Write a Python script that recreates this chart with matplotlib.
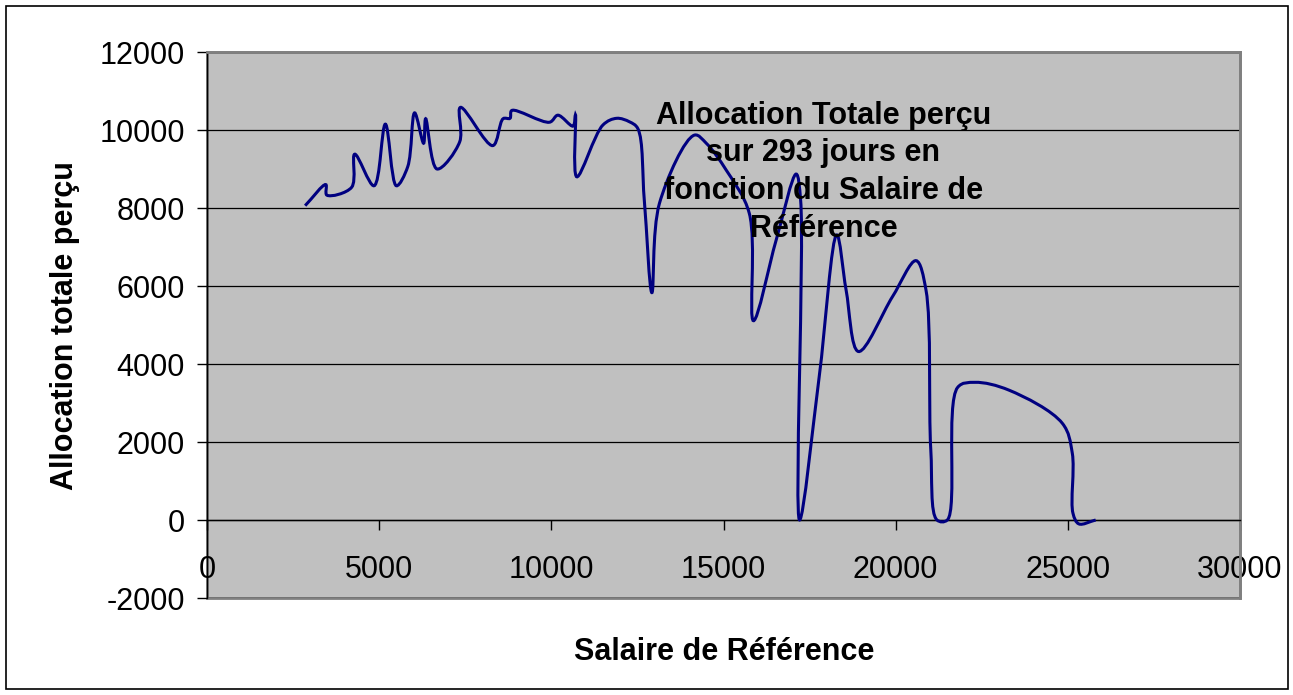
import numpy as np
import matplotlib
matplotlib.use("Agg")
import matplotlib.pyplot as plt
from matplotlib.path import Path
import matplotlib.patches as mpatches

plt.rcParams['font.family'] = ['Liberation Sans', 'DejaVu Sans']
plt.rcParams['axes.unicode_minus'] = False

# values
salaire = [2850, 3450, 3480, 4200, 4290, 4850, 5180, 5500, 5830, 6030,
           6290, 6350, 6680, 7340, 7360, 8300, 8600, 8800, 8850, 9950,
           10190, 10630, 10700, 10740, 11500, 11900, 12270, 12510, 12700, 12920,
           13140, 14160, 14500, 15080, 15750, 15870, 16530, 17110, 17240, 17210,
           17780, 18290, 18560, 18920, 19910, 20590, 20880, 21020, 21200, 21500,
           21800, 22300, 23290, 24840, 25130, 25150, 25320, 25810]
allocation = [8060, 8600, 8330, 8530, 9380, 8570, 10150, 8570, 9060, 10440,
              9660, 10290, 9000, 9700, 10580, 9600, 10290, 10300, 10500, 10200,
              10380, 10100, 10390, 8800, 10130, 10300, 10210, 10040, 8200, 5830,
              8120, 9870, 9660, 8970, 7860, 5110, 7180, 8870, 8200, 0,
              3680, 7310, 5900, 4320, 5730, 6650, 5900, 1800, 0, 0,
              3400, 3530, 3330, 2480, 1710, 170, -100, 0]

titre = "Allocation Totale perçu\nsur 293 jours en\nfonction du Salaire de\nRéférence"


def smooth_path(xs, ys, sx, sy, alpha=0.5):
    # centripetal Catmull-Rom written as cubic Bezier segments
    pts = np.column_stack([xs, ys]).astype(float)
    scale = np.array([sx, sy])
    ext = np.vstack([2 * pts[0] - pts[1], pts, 2 * pts[-1] - pts[-2]])
    verts = [pts[0]]
    codes = [Path.MOVETO]
    for i in range(1, len(ext) - 2):
        p0, p1, p2, p3 = ext[i - 1], ext[i], ext[i + 1], ext[i + 2]
        d0 = max(np.linalg.norm((p1 - p0) * scale), 1e-6) ** alpha
        d1 = max(np.linalg.norm((p2 - p1) * scale), 1e-6) ** alpha
        d2 = max(np.linalg.norm((p3 - p2) * scale), 1e-6) ** alpha
        m1 = (p1 - p0) / d0 - (p2 - p0) / (d0 + d1) + (p2 - p1) / d1
        m2 = (p2 - p1) / d1 - (p3 - p1) / (d1 + d2) + (p3 - p2) / d2
        verts += [p1 + m1 * d1 / 3, p2 - m2 * d1 / 3, p2]
        codes += [Path.CURVE4] * 3
    return Path(verts, codes)


fig = plt.figure(figsize=(12.93, 6.95), dpi=100)
fig.patches.append(mpatches.Rectangle((6 / 1293, 6 / 695), 1282 / 1293, 683 / 695,
                                      transform=fig.transFigure, fill=False,
                                      edgecolor='black', lw=1.2))

ax = fig.add_axes([207 / 1293, 1 - 598 / 695, 1033 / 1293, 546 / 695])
ax.set_facecolor('#C0C0C0')
ax.set_xlim(0, 30000)
ax.set_ylim(-2000, 12000)

ax.set_yticks(np.arange(-2000, 12001, 2000))
ax.set_xticks(np.arange(0, 30001, 5000))
ax.yaxis.grid(True, color='black', lw=0.9)
ax.set_axisbelow(True)

for s in ['top', 'right']:
    ax.spines[s].set_color('#808080')
    ax.spines[s].set_linewidth(2)
ax.spines['left'].set_color('black')
ax.spines['left'].set_linewidth(1)
ax.spines['bottom'].set_position(('data', 0))
ax.spines['bottom'].set_color('black')
ax.spines['bottom'].set_linewidth(1)
ax.add_patch(mpatches.Rectangle((0, 0), 1, 1, transform=ax.transAxes, fill=False,
                                edgecolor='#808080', lw=2, zorder=0.5, clip_on=False))

ax.tick_params(axis='y', direction='out', length=7, width=1, pad=9, labelsize=22)
ax.tick_params(axis='x', direction='out', length=7, width=1, pad=18, labelsize=22)

ax.add_patch(mpatches.PathPatch(smooth_path(salaire, allocation, 1033 / 30000, 546 / 14000),
                                fill=False, edgecolor='#000080', lw=2.2, zorder=3))

ax.text(17900, 10750, titre, ha='center', va='top', fontsize=22, fontweight='bold',
        linespacing=1.33, zorder=4)

fig.text(65 / 1293, 1 - 326 / 695, "Allocation totale perçu", rotation=90,
         ha='center', va='center', fontsize=22, fontweight='bold')
fig.text(724 / 1293, 1 - 652 / 695, "Salaire de Référence",
         ha='center', va='center', fontsize=22, fontweight='bold')

fig.savefig("out.png", dpi=100)
